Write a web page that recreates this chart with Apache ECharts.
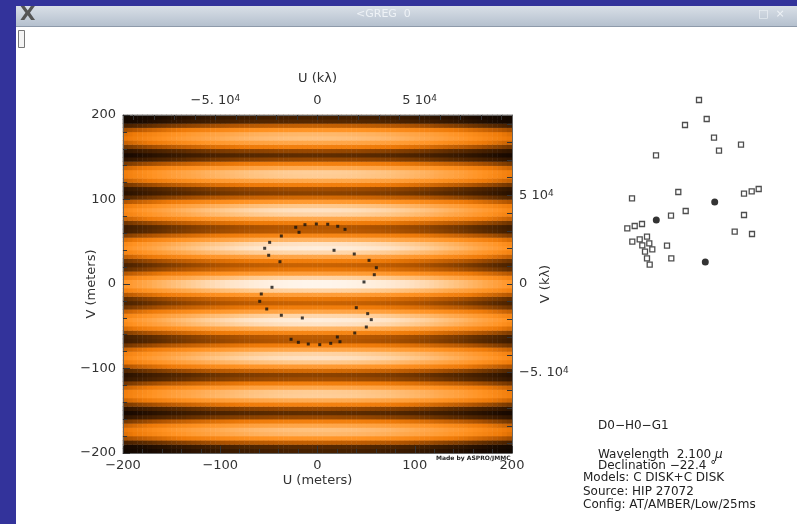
<!DOCTYPE html>
<html><head><meta charset="utf-8">
<script src="https://cdn.jsdelivr.net/npm/echarts@6/dist/echarts.min.js"></script>
<style>html,body{margin:0;padding:0;background:#fff;overflow:hidden}#c{width:797px;height:524px}</style>
</head><body><div id="c"></div><script>
// ---- Data ----
// Fringe brightness along V (centre column), for |V| = 2.5, 7.5, ... 197.5 m (pattern is symmetric in V)
const fringeRowsUpper = [0.979,0.848,0.653,0.492,0.439,0.519,0.689,0.861,0.946,0.900,
  0.743,0.552,0.418,0.407,0.519,0.697,0.847,0.894,0.811,0.637,
  0.457,0.357,0.384,0.523,0.699,0.823,0.830,0.715,0.532,0.371,
  0.307,0.372,0.528,0.695,0.787,0.756,0.613,0.431,0.295,0.271];
// Brightness attenuation along U, for |U| = 2.5, 7.5, ... 197.5 m (symmetric in U)
const envelopeColsRight = [1.000,0.999,0.999,0.997,0.995,0.993,0.990,0.987,0.983,0.979,
  0.974,0.969,0.963,0.957,0.950,0.943,0.935,0.927,0.919,0.910,
  0.900,0.890,0.880,0.869,0.857,0.846,0.833,0.820,0.807,0.793,
  0.779,0.764,0.749,0.734,0.717,0.701,0.684,0.666,0.648,0.630];
// UV coverage points (meters)
const uvU = [-22.4,-12.9,-1.2,10.5,20.8,28.3,-19.0,-37.2,-49.2,-54.3,-50.2,-38.6,17.0,37.8,53.0,60.5,58.4,47.8,-46.8,-57.8,-59.4,-52.2,-37.2,-15.6,39.9,51.6,55.3,50.2,38.3,20.4,23.1,13.6,2.3,-9.5,-19.7,-27.2];
const uvV = [67.1,70.2,71.0,70.7,68.3,64.7,61.2,56.8,49.3,42.3,34.0,26.4,39.9,35.5,28.0,19.3,11.0,2.4,-3.9,-11.8,-20.5,-29.6,-37.0,-40.2,-28.0,-35.1,-42.2,-50.9,-58.0,-62.7,-68.3,-70.2,-71.8,-71.0,-69.0,-65.4];
// Station layout (arbitrary E/N units)
const stationOpenE = [89,96.7,75,104,131,109,46,68.3,22,134,141.7,148.7,75.7,61,134,32,24.7,17.3,37,29.7,22.3,39.3,32.3,57,42.3,35,124.7,142,37,61.3,39.7];
const stationOpenN = [170,151,145,132.3,125.3,119.3,114.7,78,71.7,76.3,78.7,81,59,54.3,55,46,44,41.7,33.3,30.7,28.3,26.7,24.7,24.3,20.7,18.3,38.3,36,11.7,11.7,5.3];
const stationUsedE = [104.7,46.3,95.3];
const stationUsedN = [68,50,8];
// Axis ticks / labels
const meterRange = [-200, 200];
const meterInterval = 100;
const kLambdaRange = [-95238.1, 95238.1];
const kLambdaLabels = [-50000, 0, 50000];
const kLambdaTicks = [-90000,-80000,-70000,-60000,-50000,-40000,-30000,-20000,-10000,0,10000,20000,30000,40000,50000,60000,70000,80000,90000];
const infoLines = ['D0\u2212H0\u2212G1'];

// ---- build heatmap table ----
const rowFull = fringeRowsUpper.slice().reverse().concat(fringeRowsUpper);
const colFull = envelopeColsRight.slice().reverse().concat(envelopeColsRight);
const uCats = colFull.map((_, i) => (-197.5 + 5 * i).toFixed(1));
const vCats = rowFull.map((_, j) => (-197.5 + 5 * j).toFixed(1));
const heat = [];
for (let i = 0; i < colFull.length; i++)
  for (let j = 0; j < rowFull.length; j++)
    heat.push([i, j, +(rowFull[j] * colFull[i]).toFixed(3)]);

const FONT = 'DejaVu Sans';
const TXT = '#333';
const G = {left: 123, top: 115, width: 389, height: 338};
function kl(v) {
  if (v === 0) return '0';
  const m = v / 1e4;
  return (m < 0 ? '\u2212' + Math.abs(m) + '.' : String(m)) + ' 10{s|4}';
}
function ml(v) { return v < 0 ? '\u2212' + Math.abs(v) : String(v); }
const rich = {s: {fontSize: 9, fontFamily: FONT, color: TXT, verticalAlign: 'top', lineHeight: 9}};
const axLine = {show: true, onZero: false, lineStyle: {color: '#666', width: 1}};
const nameStyle = {fontSize: 13, color: TXT, fontFamily: FONT};

const chart = echarts.init(document.getElementById('c'), null, {renderer: 'canvas'});
chart.setOption({
  animation: false,
  backgroundColor: '#fff',
  textStyle: {fontFamily: FONT},
  grid: [
    Object.assign({}, G, {containLabel: false}),
    Object.assign({}, G, {containLabel: false}),
    {left: 610, top: 90, width: 160, height: 180}
  ],
  visualMap: {show: false, type: 'continuous', min: 0, max: 1, seriesIndex: 0,
    inRange: {color: ['#000000','#000000','#1a0a00','#5a2a00','#b05400','#ee7a08','#ff9222','#ffa84c','#ffc585','#ffe3c6','#fffaf5']}},
  xAxis: [
    {type: 'category', gridIndex: 0, data: uCats, show: false},
    {type: 'value', gridIndex: 1, position: 'bottom', min: meterRange[0], max: meterRange[1], interval: meterInterval, z: 10,
      name: 'U (meters)', nameLocation: 'middle', nameGap: 21, nameMoveOverlap: false, nameTextStyle: nameStyle,
      axisLine: axLine, axisTick: {inside: true, length: 7, lineStyle: {color: '#333'}},
      minorTick: {show: true, splitNumber: 5, length: 4, lineStyle: {color: '#333'}},
      splitLine: {show: false}, axisLabel: {fontSize: 13, color: TXT, margin: 6, formatter: ml}},
    {type: 'value', gridIndex: 1, position: 'top', min: kLambdaRange[0], max: kLambdaRange[1], z: 10,
      name: 'U (k\u03bb)', nameLocation: 'middle', nameGap: 30, nameMoveOverlap: false, nameTextStyle: nameStyle,
      axisLine: axLine, axisTick: {inside: true, length: 5, customValues: kLambdaTicks, lineStyle: {color: '#333'}},
      splitLine: {show: false}, axisLabel: {fontSize: 13, color: TXT, margin: 8, customValues: kLambdaLabels, formatter: kl, rich: rich}},
    {type: 'value', gridIndex: 2, min: 0, max: 160, show: false}
  ],
  yAxis: [
    {type: 'category', gridIndex: 0, data: vCats, show: false},
    {type: 'value', gridIndex: 1, position: 'left', min: meterRange[0], max: meterRange[1], interval: meterInterval, z: 10,
      name: 'V (meters)', nameLocation: 'middle', nameRotate: 90, nameGap: 25, nameMoveOverlap: false, nameTextStyle: nameStyle,
      axisLine: axLine, axisTick: {inside: true, length: 7, lineStyle: {color: '#333'}},
      minorTick: {show: true, splitNumber: 5, length: 4, lineStyle: {color: '#333'}},
      splitLine: {show: false}, axisLabel: {fontSize: 13, color: TXT, margin: 7, formatter: ml}},
    {type: 'value', gridIndex: 1, position: 'right', min: kLambdaRange[0], max: kLambdaRange[1], z: 10,
      name: 'V (k\u03bb)', nameLocation: 'middle', nameRotate: 90, nameGap: 27, nameMoveOverlap: false, nameTextStyle: nameStyle,
      axisLine: axLine, axisTick: {inside: true, length: 5, customValues: kLambdaTicks, lineStyle: {color: '#333'}},
      splitLine: {show: false}, axisLabel: {fontSize: 13, color: TXT, margin: 7, customValues: kLambdaLabels, formatter: kl, rich: rich}},
    {type: 'value', gridIndex: 2, min: 0, max: 180, show: false}
  ],
  series: [
    {type: 'heatmap', xAxisIndex: 0, yAxisIndex: 0, data: heat, progressive: 0, z: 1, emphasis: {disabled: true}},
    {type: 'scatter', xAxisIndex: 1, yAxisIndex: 1, z: 5, symbol: 'rect', symbolSize: 3,
      itemStyle: {color: '#111'}, data: uvU.map((u, k) => [u, uvV[k]])},
    {type: 'scatter', xAxisIndex: 3, yAxisIndex: 3, symbol: 'rect', symbolSize: [5, 5],
      itemStyle: {color: '#fff', borderColor: '#222', borderWidth: 1.3}, data: stationOpenE.map((e, k) => [e, stationOpenN[k]])},
    {type: 'scatter', xAxisIndex: 3, yAxisIndex: 3, symbol: 'circle', symbolSize: 7,
      itemStyle: {color: '#000'}, data: stationUsedE.map((e, k) => [e, stationUsedN[k]])}
  ],
  graphic: [
    {type: 'rect', left: 0, top: 0, shape: {width: 797, height: 524}, style: {fill: '#33339b'}, z: -10, silent: true},
    {type: 'rect', left: 16, top: 27, shape: {width: 781, height: 497}, style: {fill: '#ffffff'}, z: -9, silent: true},
    {type: 'rect', left: 16, top: 6, shape: {width: 781, height: 21},
      style: {fill: new echarts.graphic.LinearGradient(0, 0, 0, 1, [{offset: 0, color: '#d9dfe7'}, {offset: 1, color: '#b3bfcd'}])}, z: -8, silent: true},
    {type: 'rect', left: 16, top: 26, shape: {width: 781, height: 1}, style: {fill: '#8e9aaa'}, z: -7, silent: true},
    {type: 'text', left: 20, top: 5, style: {text: 'X', font: 'bold 20px DejaVu Sans', fill: '#555'}, z: -6},
    {type: 'text', left: 356, top: 9, style: {text: '<GREG  0', font: '11px DejaVu Sans', fill: '#eef2f6'}, z: -6},
    {type: 'text', left: 758, top: 9, style: {text: '\u25a1  \u00d7', font: '11px DejaVu Sans', fill: '#eef2f6'}, z: -6},
    {type: 'rect', left: 18, top: 30, shape: {width: 6, height: 17}, style: {fill: '#f4f4f4', stroke: '#777', lineWidth: 1}, z: -6},
    {type: 'text', left: 436, top: 455, style: {text: 'Made by ASPRO/JMMC', font: 'bold 6px DejaVu Sans', fill: '#222'}},
    {type: 'text', left: 598, top: 420, style: {text: infoLines[0], font: '12px DejaVu Sans', fill: '#222'}},
    {type: 'text', left: 598, top: 449, style: {text: 'Wavelength  2.100 {i|\u03bc}', font: '12px DejaVu Sans', fill: '#222',
      rich: {i: {font: 'italic 12px DejaVu Sans', fill: '#222'}}}},
    {type: 'text', left: 598, top: 460, style: {text: 'Declination \u221222.4 \u00b0', font: '12px DejaVu Sans', fill: '#222'}},
    {type: 'text', left: 583, top: 472, style: {text: 'Models: C DISK+C DISK', font: '12px DejaVu Sans', fill: '#222'}},
    {type: 'text', left: 583, top: 486, style: {text: 'Source: HIP 27072', font: '12px DejaVu Sans', fill: '#222'}},
    {type: 'text', left: 583, top: 499, style: {text: 'Config: AT/AMBER/Low/25ms', font: '12px DejaVu Sans', fill: '#222'}}
  ]
});
</script></body></html>
